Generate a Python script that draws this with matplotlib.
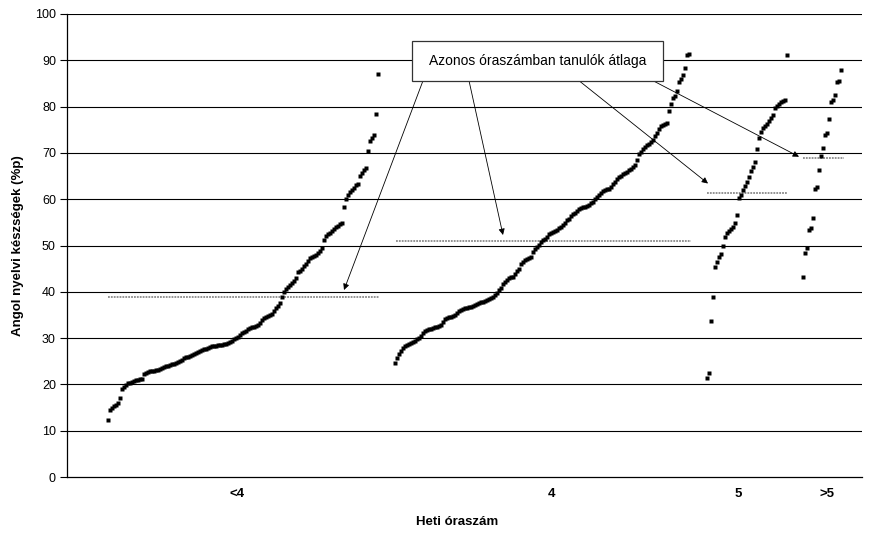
import numpy as np
import matplotlib
matplotlib.use('Agg')
import matplotlib.pyplot as plt
from matplotlib.patches import Rectangle

# 1. Adatok (rendezett pontszámok óraszám szerint)
CSOPORTOK = ["<4", "4", "5", ">5"]

ertek_kevesebb4 = [
    12.4, 14.5, 15.0, 15.3, 15.6, 16.0, 17.1, 19.0, 19.5, 19.9,
    20.2, 20.4, 20.6, 20.8, 20.9, 21.0, 21.1, 21.2, 22.2, 22.5,
    22.7, 22.8, 22.9, 23.0, 23.1, 23.2, 23.4, 23.6, 23.7, 23.9,
    24.0, 24.2, 24.3, 24.5, 24.6, 24.8, 25.1, 25.3, 25.6, 25.9,
    26.0, 26.2, 26.4, 26.6, 26.8, 27.0, 27.2, 27.4, 27.6, 27.7,
    27.9, 28.0, 28.2, 28.3, 28.4, 28.5, 28.6, 28.6, 28.7, 28.8,
    29.0, 29.2, 29.4, 29.7, 30.0, 30.3, 30.7, 31.0, 31.3, 31.6,
    31.9, 32.1, 32.3, 32.5, 32.7, 32.9, 33.2, 34.0, 34.3, 34.5,
    34.7, 34.9, 35.2, 35.8, 36.5, 37.0, 37.6, 38.8, 40.0, 40.5,
    41.0, 41.4, 41.8, 42.3, 43.0, 44.2, 44.6, 45.0, 45.5, 46.1,
    46.7, 47.2, 47.5, 47.8, 48.0, 48.4, 48.8, 49.5, 51.2, 52.0,
    52.5, 52.8, 53.1, 53.5, 54.0, 54.3, 54.6, 54.8, 58.3, 60.0,
    60.8, 61.5, 62.0, 62.5, 63.0, 63.3, 65.0, 65.7, 66.3, 66.7,
    70.5, 72.5, 73.3, 73.8, 78.3, 87.0,
]

ertek_4 = [
    24.6, 25.6, 26.6, 27.2, 27.8, 28.3, 28.6, 28.8, 29.0, 29.2,
    29.4, 29.7, 30.0, 30.4, 31.0, 31.5, 31.8, 31.9, 32.0, 32.1,
    32.3, 32.5, 32.6, 32.8, 33.5, 34.2, 34.4, 34.5, 34.6, 34.7,
    35.0, 35.5, 35.8, 36.1, 36.3, 36.5, 36.6, 36.7, 36.8, 36.9,
    37.1, 37.3, 37.5, 37.7, 37.9, 38.1, 38.3, 38.5, 38.7, 38.9,
    39.3, 39.8, 40.3, 40.9, 41.6, 42.2, 42.6, 42.9, 43.1, 43.3,
    43.9, 44.4, 45.0, 45.9, 46.5, 46.8, 47.0, 47.2, 47.6, 48.5,
    49.3, 49.7, 50.2, 50.7, 51.1, 51.4, 51.9, 52.4, 52.8, 53.0,
    53.2, 53.3, 53.7, 54.1, 54.4, 54.9, 55.4, 55.8, 56.3, 56.8,
    57.1, 57.4, 57.8, 58.1, 58.3, 58.4, 58.5, 58.7, 59.1, 59.5,
    60.0, 60.4, 60.9, 61.4, 61.8, 62.0, 62.2, 62.3, 62.6, 63.2,
    63.8, 64.3, 64.8, 65.1, 65.4, 65.7, 65.9, 66.2, 66.6, 67.0,
    67.4, 68.5, 69.7, 70.2, 70.8, 71.3, 71.6, 72.0, 72.4, 72.8,
    73.7, 74.4, 75.2, 75.8, 76.1, 76.3, 76.5, 79.0, 80.5, 81.8,
    82.3, 83.3, 85.4, 86.0, 86.8, 88.3, 91.2, 91.4,
]

ertek_5 = [
    21.4, 22.5, 33.7, 38.8, 45.4, 46.4, 47.5, 48.2, 49.9, 51.9,
    52.6, 53.1, 53.5, 53.9, 54.8, 56.6, 60.2, 60.9, 61.9, 62.8,
    63.8, 64.9, 66.0, 66.9, 68.1, 70.8, 73.3, 74.6, 75.3, 75.8,
    76.3, 76.8, 77.5, 78.2, 79.6, 80.1, 80.5, 80.9, 81.2, 81.4,
    91.1,
]

ertek_tobb5 = [
    43.1, 48.3, 49.4, 53.4, 53.8, 55.9, 62.2, 62.7, 66.4, 69.4,
    71.0, 73.8, 74.3, 77.3, 81.0, 81.4, 82.4, 85.3, 85.6, 87.8,
]

# csoportátlagok (vízszintes vonalak)
atlagok = [38.8, 50.9, 61.4, 68.8]

# 2. Elrendezés
KEZDO_X = [108, 395, 707, 803]     # első pont helye csoportonként
LEPES = 2                          # pontok távolsága
VONAL_X = [(108, 379), (396, 691), (707, 787), (803, 844)]
FELIRAT_X = [237, 551, 738, 827]

plt.rcParams['font.family'] = ['Liberation Sans', 'DejaVu Sans']

fig = plt.figure(figsize=(8.72, 5.35), dpi=100)
ax = fig.add_axes([67 / 872, 1 - 477 / 535, (862 - 67) / 872, (477 - 14) / 535])

# rácsvonalak
for y in range(10, 101, 10):
    ax.axhline(y, color='black', lw=0.8, zorder=1)

# pontok
for kezd, ertekek in zip(KEZDO_X, [ertek_kevesebb4, ertek_4, ertek_5, ertek_tobb5]):
    x = kezd + LEPES * np.arange(len(ertekek))
    ax.plot(x, ertekek, 's', color='black', ms=3.5, mec='none', zorder=3)

# átlagvonalak
for (x0, x1), atl in zip(VONAL_X, atlagok):
    ax.plot([x0, x1], [atl, atl], color='#8a8a8a', lw=1.3,
            linestyle=(0, (1, 0.6)), zorder=2)

# 3. Magyarázó doboz és nyilak
def px_y(py):
    return (477 - py) / 4.63

ax.add_patch(Rectangle((412, px_y(80.7)), 663 - 412, px_y(40.7) - px_y(80.7),
                       facecolor='white', edgecolor='#333333', lw=0.9, zorder=5))
ax.text(537.5, px_y(60.7), 'Azonos óraszámban tanulók átlaga', ha='center',
        va='center', fontsize=10, zorder=6)

nyilak = [((423, 80.7), (344, 290)),
          ((469, 80.7), (503, 235)),
          ((579, 80.7), (708, 183.5)),
          ((653, 80.7), (799, 156.7))]
for (sx, sy), (tx, ty) in nyilak:
    ax.annotate('', xy=(tx, px_y(ty)), xytext=(sx, px_y(sy)),
                arrowprops=dict(arrowstyle='-|>', color='black', lw=0.6,
                                mutation_scale=9, shrinkA=0, shrinkB=0),
                zorder=4)

# 4. Tengelyek
ax.set_xlim(67, 862)
ax.set_ylim(0, 100)
ax.set_yticks(range(0, 101, 10))
ax.set_xticks(FELIRAT_X)
ax.set_xticklabels(CSOPORTOK, fontweight='bold', fontsize=9.5)
ax.tick_params(axis='x', length=0, pad=8)
ax.tick_params(axis='y', length=5, width=0.8, labelsize=9, pad=3, direction='out')
for s in ['top', 'right']:
    ax.spines[s].set_visible(False)
ax.spines['left'].set_linewidth(0.9)
ax.spines['bottom'].set_linewidth(0.9)

ax.set_ylabel('Angol nyelvi készségek (%p)', fontweight='bold', fontsize=9.5, labelpad=8)
fig.text(457 / 872, 1 - 522 / 535, 'Heti óraszám', ha='center', va='center',
         fontweight='bold', fontsize=9.5)

fig.savefig('out.png', dpi=100)
